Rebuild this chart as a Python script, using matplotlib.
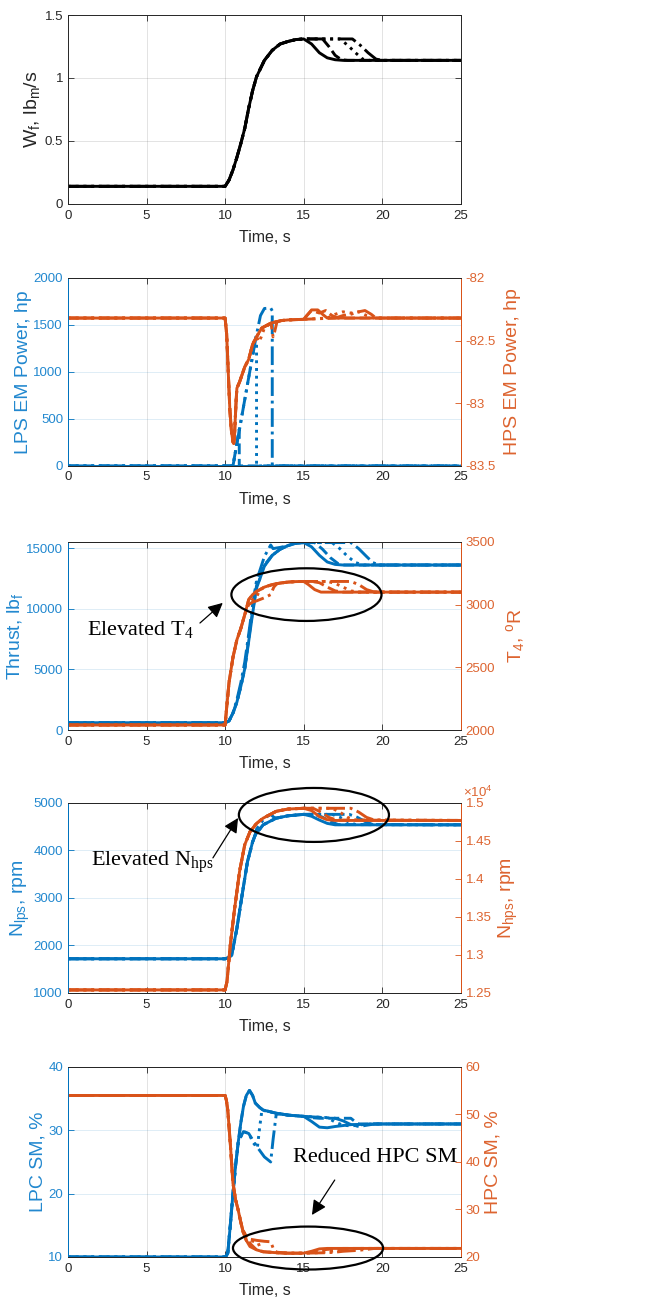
"""
    Engine response to a fuel step: fuel flow, EM power, thrust/T4,
    spool speeds and compressor stall margins for four assist cases.
"""

import matplotlib.pyplot as plt
from matplotlib.patches import Ellipse
from matplotlib.ticker import FuncFormatter

plt.rcParams["font.family"] = ["Liberation Sans", "DejaVu Sans"]
plt.rcParams["axes.unicode_minus"] = False
plt.rcParams["mathtext.fontset"] = "custom"
plt.rcParams["mathtext.rm"] = "Liberation Sans"
plt.rcParams["mathtext.it"] = "Liberation Sans"

BLUE = "#0072BD"
ORANGE = "#D95319"
BLUE_TXT = "#2288CF"
ORANGE_TXT = "#DD6430"
DARK = "#262626"
STYLES = ["-", "--", ":", "-."]

# ---- fuel flow, lbm/s ----
t_wf = [0, 10, 10.25, 10.5, 10.75, 11, 11.25, 11.5, 11.75, 12, 12.5, 13, 13.5, 14, 14.5, 15]
wf_rise = [0.14, 0.14, 0.19, 0.27, 0.37, 0.48, 0.60, 0.76, 0.90, 1.01, 1.14, 1.22, 1.27, 1.29, 1.305, 1.31]
wf_tail_t = [
    [15.5, 16, 16.5, 17, 17.5, 25],
    [16.2, 16.6, 17.0, 17.4, 17.8, 25],
    [17.3, 17.8, 18.3, 18.75, 19.2, 25],
    [18.1, 18.6, 19.1, 19.6, 20.0, 25],
]
wf_tail_y = [
    [1.27, 1.20, 1.16, 1.145, 1.14, 1.14],
    [1.31, 1.25, 1.18, 1.145, 1.14, 1.14],
    [1.31, 1.26, 1.20, 1.15, 1.14, 1.14],
    [1.31, 1.26, 1.20, 1.15, 1.14, 1.14],
]

# ---- LPS EM power, hp ----
lps_t = [
    [0, 25],
    [0, 10.5, 10.9, 10.9, 25],
    [0, 10.5, 11.0, 11.5, 12.0, 12.0, 25],
    [0, 10.5, 11.0, 11.5, 12.0, 12.25, 12.5, 12.9, 13.0, 13.0, 25],
]
lps_p = [
    [0, 0],
    [0, 0, 390, 0, 0],
    [0, 0, 470, 940, 1400, 0, 0],
    [0, 0, 470, 940, 1400, 1600, 1675, 1680, 1650, 0, 0],
]

# ---- HPS EM power, hp ----
t_hps = [0, 10, 10.1, 10.2, 10.3, 10.4, 10.5, 10.55, 10.6, 10.7, 10.75, 10.92, 11.25,
         11.5, 11.75, 12, 12.33, 12.92, 13.58, 14, 15]
hps_base = [-82.32, -82.32, -82.45, -82.75, -83.05, -83.22, -83.31, -83.32, -83.25, -82.98,
            -82.88, -82.83, -82.71, -82.65, -82.53, -82.47, -82.40, -82.36, -82.34, -82.335, -82.33]
hps_mid_t = [None, None, [12.0, 12.15, 12.3, 12.5], [12.92, 13.05, 13.15, 13.3]]
hps_mid_y = [None, None, [-82.47, -82.51, -82.47, -82.40], [-82.36, -82.47, -82.43, -82.35]]
hps_tail_t = [
    [15.2, 15.5, 15.9, 16.2, 16.5, 25],
    [15.2, 15.5, 16.0, 16.4, 16.8, 17.2, 25],
    [16.5, 17.0, 17.5, 18.0, 18.5, 19.0, 19.5, 25],
    [17.0, 17.5, 18.0, 18.5, 18.9, 19.3, 19.6, 25],
]
hps_tail_y = [
    [-82.30, -82.255, -82.255, -82.29, -82.32, -82.32],
    [-82.30, -82.26, -82.28, -82.26, -82.30, -82.32, -82.32],
    [-82.32, -82.29, -82.27, -82.28, -82.27, -82.30, -82.32, -82.32],
    [-82.32, -82.30, -82.29, -82.27, -82.26, -82.29, -82.32, -82.32],
]

# ---- thrust, lbf ----
t_thr = [0, 10, 10.25, 10.5, 10.75, 11, 11.25, 11.5, 11.75, 12, 12.5, 13, 13.5, 14, 14.5, 15]
thr_base = [600, 600, 750, 1400, 2300, 3600, 5050, 7300, 9600, 11700, 13500, 14400, 14900,
            15200, 15400, 15450]
thr_mid_t = [None, [11.5, 11.75, 12.0, 12.5], [11.5, 11.75, 12.0, 12.1, 12.5],
             [10.75, 11, 11.25, 11.5, 11.75, 12, 12.5, 12.9, 13.05, 13.25, 13.5]]
thr_mid_y = [None, [7500, 9800, 11900, 13600], [7700, 10000, 12200, 12050, 13550],
             [2500, 3900, 5600, 7900, 10300, 12300, 14300, 15250, 14950, 15000, 15050]]
thr_tail_t = [
    [15.5, 16, 16.5, 17, 17.5, 25],
    [15.7, 16.2, 16.7, 17.2, 17.6, 25],
    [16.8, 17.3, 17.8, 18.3, 18.8, 25],
    [18.0, 18.5, 19.0, 19.4, 19.8, 25],
]
thr_tail_y = [
    [15100, 14400, 13850, 13650, 13600, 13600],
    [15450, 14900, 14200, 13700, 13600, 13600],
    [15450, 14950, 14300, 13800, 13600, 13600],
    [15450, 14950, 14300, 13800, 13600, 13600],
]

# ---- T4, degR ----
t_t4 = [0, 10, 10.1, 10.25, 10.5, 10.75, 11, 11.25, 11.5, 11.75, 12, 12.5, 13, 13.5, 14, 14.5, 15]
t4_base = [2040, 2040, 2180, 2380, 2580, 2720, 2810, 2920, 3040, 3080, 3105, 3140, 3160, 3172,
           3180, 3184, 3185]
t4_mid_t = [None, None, [11.5, 11.75, 12.0, 12.2], [11.5, 11.75, 12.0, 12.5, 12.9, 13.1, 13.3]]
t4_mid_y = [None, None, [3020, 3040, 3060, 3115], [3000, 3020, 3030, 3055, 3080, 3140, 3168]]
t4_tail_t = [
    [15.3, 15.7, 16.1, 16.5, 25],
    [15.5, 16.0, 16.5, 17.0, 17.5, 25],
    [16.5, 17.0, 17.5, 18.0, 18.5, 25],
    [17.5, 18.0, 18.5, 19.0, 19.5, 25],
]
t4_tail_y = [
    [3160, 3120, 3100, 3100, 3100],
    [3185, 3175, 3140, 3110, 3100, 3100],
    [3185, 3170, 3140, 3110, 3100, 3100],
    [3185, 3185, 3160, 3120, 3100, 3100],
]

# ---- LPS speed, rpm ----
t_nl = [0, 10, 10.2, 10.42, 10.75, 11.08, 11.42, 11.75, 11.92, 12.42, 13.25, 14, 15]
nl_base = [1720, 1720, 1740, 1800, 2360, 3060, 3760, 4180, 4330, 4540, 4680, 4730, 4760]
nl_mid_t = [None, None, None, [12.0, 12.5, 12.9, 13.1]]
nl_mid_y = [None, None, None, [4450, 4680, 4760, 4700]]
nl_tail_t = [
    [15.5, 16, 16.5, 17, 25],
    [15.7, 16.2, 16.7, 17.2, 25],
    [16.8, 17.3, 17.8, 18.3, 25],
    [17.9, 18.4, 18.9, 19.4, 25],
]
nl_tail_y = [
    [4720, 4640, 4570, 4540, 4540],
    [4760, 4700, 4610, 4545, 4540],
    [4760, 4700, 4610, 4545, 4540],
    [4760, 4700, 4610, 4545, 4540],
]

# ---- HPS speed, rpm ----
t_nh = [0, 10, 10.12, 10.33, 10.58, 10.92, 11.25, 11.58, 12, 12.42, 13.25, 14, 15]
nh_base = [12540, 12540, 12650, 13130, 13570, 14100, 14450, 14620, 14730, 14800, 14890, 14920, 14930]
nh_tail_t = [
    [15.5, 16, 16.5, 17, 25],
    [15.6, 16.1, 16.6, 17.1, 25],
    [16.8, 17.3, 17.8, 18.3, 25],
    [18.0, 18.5, 19.0, 19.5, 25],
]
nh_tail_y = [
    [14900, 14820, 14780, 14770, 14770],
    [14930, 14880, 14810, 14775, 14770],
    [14930, 14880, 14810, 14775, 14770],
    [14930, 14880, 14810, 14775, 14770],
]

# ---- LPC stall margin, % ----
t_lsm = [0, 10, 10.05, 10.17, 10.33, 10.5, 10.67, 10.83, 11, 11.17, 11.35, 11.55, 11.75, 11.92,
         12.2, 12.42, 13.25, 14, 15]
lsm_base = [10, 10, 10.1, 10.6, 15, 20, 24.5, 28, 31.2, 33.8, 35.5, 36.3, 35.5, 34.3, 33.6, 33.2,
            32.7, 32.4, 32.2]
lsm_mid_t = [None, None, [11.0, 11.17, 11.5, 11.8, 12.05, 12.2, 12.35, 12.5],
             [11.0, 11.17, 11.5, 12.0, 12.5, 12.9, 13.05, 13.25, 13.5]]
lsm_mid_y = [None, None, [29.0, 29.8, 29.5, 28.0, 27.2, 30.5, 33.3, 33.1],
             [29.0, 29.8, 29.5, 27.5, 25.8, 25.0, 28.5, 32.5, 32.6]]
lsm_tail_t = [
    [15.5, 16, 16.5, 17, 18, 20, 25],
    [15.5, 16, 17, 18, 18.2, 18.5, 19, 25],
    [16.5, 17, 17.5, 18, 18.5, 19, 25],
    [17, 17.5, 18, 18.5, 19, 19.5, 25],
]
lsm_tail_y = [
    [31.4, 30.5, 30.4, 30.6, 30.9, 31.0, 31.0],
    [32.0, 31.9, 31.9, 31.9, 31.5, 31.0, 31.0, 31.0],
    [32.0, 31.3, 30.8, 30.7, 30.8, 31.0, 31.0],
    [31.9, 31.5, 30.9, 30.6, 30.8, 31.0, 31.0],
]

# ---- HPC stall margin, % ----
t_hsm = [0, 10, 10.08, 10.17, 10.33, 10.5, 10.67, 10.83, 11, 11.17, 11.35, 11.58, 12, 12.42,
         13.25, 14, 15]
hsm_base = [54, 54, 53, 50.9, 43.9, 35.5, 32.0, 29.9, 27.3, 25.0, 23.5, 22.2, 21.5, 21.1, 20.9,
            20.8, 20.8]
hsm_mid_t = [None, [11.2, 11.4, 11.6], [11.5, 11.8, 12.1, 12.3],
             [11.5, 12.0, 12.5, 12.9, 13.1, 13.3]]
hsm_mid_y = [None, [25.3, 24.0, 22.8], [23.5, 23.3, 23.0, 21.3],
             [23.8, 23.5, 23.3, 23.2, 21.5, 21.0]]
hsm_tail_t = [
    [15.5, 16, 16.5, 17, 25],
    [15.5, 16, 16.5, 17, 17.5, 25],
    [16, 16.5, 17, 17.5, 18, 18.5, 25],
    [16.5, 17, 17.5, 18, 18.5, 19, 19.5, 25],
]
hsm_tail_y = [
    [21.2, 21.7, 21.8, 21.8, 21.8],
    [21.0, 21.4, 21.6, 21.7, 21.8, 21.8],
    [20.9, 21.1, 21.3, 21.4, 21.6, 21.8, 21.8],
    [20.9, 21.0, 21.2, 21.3, 21.4, 21.6, 21.8, 21.8],
]


def splice(t, y, new_t, new_y):
    """Replace the points of (t, y) lying inside new_t's span by the new points."""
    if new_t is None:
        return list(t), list(y)
    a = [(ti, yi) for ti, yi in zip(t, y) if ti < new_t[0]]
    b = [(ti, yi) for ti, yi in zip(t, y) if ti > new_t[-1]]
    pts = a + list(zip(new_t, new_y)) + b
    return [p[0] for p in pts], [p[1] for p in pts]


def series(t, base, mid_t, mid_y, tail_t, tail_y):
    out = []
    for k in range(4):
        tt, yy = splice(t, base, mid_t[k] if mid_t else None, mid_y[k] if mid_y else None)
        tt, yy = splice(tt, yy, tail_t[k], tail_y[k])
        out.append((tt, yy))
    return out


def draw(ax, curves, color):
    for k in (3, 2, 1, 0):
        tt, yy = curves[k]
        ax.plot(tt, yy, STYLES[k], color=color, lw=2.1)


def style(ax, ax2=None, lcol=DARK, rcol=DARK, ltxt=DARK, rtxt=DARK):
    ax.set_xlim(0, 25)
    ax.set_xticks([0, 5, 10, 15, 20, 25])
    ax.tick_params(axis="x", direction="in", top=True, length=4, width=0.6,
                   labelsize=9.5, pad=4, colors=DARK)
    ax.tick_params(axis="y", direction="in", length=4, width=0.6, labelsize=9.5,
                   color=lcol, labelcolor=ltxt, right=(ax2 is None))
    ax.grid(axis="x", color=DARK, alpha=0.15, lw=0.6)
    ax.grid(axis="y", color=lcol if ax2 is not None else DARK, alpha=0.15, lw=0.6)
    ax.set_xlabel("Time, s", fontsize=11.5, color=DARK, labelpad=6)
    for a in [ax] + ([ax2] if ax2 is not None else []):
        a.spines["top"].set_color(DARK)
        a.spines["bottom"].set_color(DARK)
        a.spines["left"].set_color(lcol)
        a.spines["right"].set_color(rcol)
        for s in a.spines.values():
            s.set_linewidth(0.7)
    if ax2 is not None:
        ax2.tick_params(axis="y", direction="in", length=4, width=0.6, labelsize=9.5,
                        color=rcol, labelcolor=rtxt)


def fmt(v, _):
    return "%g" % v


def annotate(ax, text, xy_text, xy_arrow, ell_c, ell_w, ell_h, ha="left"):
    ax.add_patch(Ellipse(ell_c, ell_w, ell_h, transform=ax.transAxes, fill=False,
                         ec="black", lw=1.6, clip_on=False, zorder=10))
    ax.annotate("", xy=xy_arrow, xytext=xy_text[1], xycoords="axes fraction",
                arrowprops=dict(arrowstyle="-|>", color="black", lw=0.9, mutation_scale=22,
                                shrinkA=0, shrinkB=0), zorder=10)
    ax.text(xy_text[0][0], xy_text[0][1], text, transform=ax.transAxes, ha=ha, va="center",
            fontsize=16, family=["Liberation Serif"], zorder=10)


fig = plt.figure(figsize=(6.66, 13.05), dpi=100)
L, W = 0.102, 0.590
YL = 14

# panel 1: fuel flow
ax1 = fig.add_axes([L, 0.8437, W, 0.1448])
draw(ax1, series(t_wf, wf_rise, None, None, wf_tail_t, wf_tail_y), "black")
ax1.set_ylim(0, 1.5)
ax1.set_yticks([0, 0.5, 1, 1.5])
ax1.yaxis.set_major_formatter(FuncFormatter(fmt))
style(ax1)
ax1.set_ylabel(r"W$_f$, lb$_m$/s", fontsize=YL, color=DARK, labelpad=2)

# panel 2: EM power
ax2 = fig.add_axes([L, 0.643, W, 0.144])
ax2r = ax2.twinx()
for k in (3, 2, 1, 0):
    ax2.plot(lps_t[k], lps_p[k], STYLES[k], color=BLUE, lw=2.1)
draw(ax2r, series(t_hps, hps_base, hps_mid_t, hps_mid_y, hps_tail_t, hps_tail_y), ORANGE)
ax2.set_ylim(0, 2000)
ax2.set_yticks([0, 500, 1000, 1500, 2000])
ax2r.set_ylim(-83.5, -82)
ax2r.set_yticks([-83.5, -83, -82.5, -82])
ax2r.yaxis.set_major_formatter(FuncFormatter(fmt))
style(ax2, ax2r, BLUE, ORANGE, BLUE_TXT, ORANGE_TXT)
ax2.set_ylabel("LPS EM Power, hp", fontsize=YL, color=BLUE_TXT, labelpad=1)
ax2r.set_ylabel("HPS EM Power, hp", fontsize=YL, color=ORANGE_TXT, labelpad=6)

# panel 3: thrust and T4
ax3 = fig.add_axes([L, 0.4406, W, 0.1441])
ax3r = ax3.twinx()
draw(ax3, series(t_thr, thr_base, thr_mid_t, thr_mid_y, thr_tail_t, thr_tail_y), BLUE)
draw(ax3r, series(t_t4, t4_base, t4_mid_t, t4_mid_y, t4_tail_t, t4_tail_y), ORANGE)
ax3.set_ylim(0, 15500)
ax3.set_yticks([0, 5000, 10000, 15000])
ax3r.set_ylim(2000, 3500)
ax3r.set_yticks([2000, 2500, 3000, 3500])
style(ax3, ax3r, BLUE, ORANGE, BLUE_TXT, ORANGE_TXT)
ax3.set_ylabel(r"Thrust, lb$_f$", fontsize=YL, color=BLUE_TXT, labelpad=1)
ax3r.set_ylabel(r"T$_4$, $^o$R", fontsize=YL, color=ORANGE_TXT, labelpad=6)
annotate(ax3r, r"Elevated T$_\mathregular{4}$", ((0.048, 0.532), (0.336, 0.569)), (0.394, 0.676),
         (0.607, 0.72), 0.382, 0.28)

# panel 4: spool speeds
ax4 = fig.add_axes([L, 0.2391, W, 0.1456])
ax4r = ax4.twinx()
draw(ax4, series(t_nl, nl_base, nl_mid_t, nl_mid_y, nl_tail_t, nl_tail_y), BLUE)
draw(ax4r, series(t_nh, nh_base, None, None, nh_tail_t, nh_tail_y), ORANGE)
ax4.set_ylim(1000, 5000)
ax4.set_yticks([1000, 2000, 3000, 4000, 5000])
ax4r.set_ylim(12500, 15000)
ax4r.set_yticks([12500, 13000, 13500, 14000, 14500, 15000])
ax4r.yaxis.set_major_formatter(FuncFormatter(lambda v, _: "%g" % (v / 1e4)))
style(ax4, ax4r, BLUE, ORANGE, BLUE_TXT, ORANGE_TXT)
ax4r.text(1.005, 1.058, r"$\times10^{4}$", transform=ax4r.transAxes, color=ORANGE_TXT,
          fontsize=9.5, va="center", ha="left")
ax4.set_ylabel(r"N$_{lps}$, rpm", fontsize=YL, color=BLUE_TXT, labelpad=1)
ax4r.set_ylabel(r"N$_{hps}$, rpm", fontsize=YL, color=ORANGE_TXT, labelpad=4)
annotate(ax4r, r"Elevated N$_\mathregular{hps}$", ((0.058, 0.684), (0.369, 0.711)),
         (0.433, 0.921), (0.626, 0.937), 0.382, 0.284)

# panel 5: stall margins
ax5 = fig.add_axes([L, 0.0368, W, 0.1456])
ax5r = ax5.twinx()
draw(ax5, series(t_lsm, lsm_base, lsm_mid_t, lsm_mid_y, lsm_tail_t, lsm_tail_y), BLUE)
draw(ax5r, series(t_hsm, hsm_base, hsm_mid_t, hsm_mid_y, hsm_tail_t, hsm_tail_y), ORANGE)
ax5.set_ylim(10, 40)
ax5.set_yticks([10, 20, 30, 40])
ax5r.set_ylim(20, 60)
ax5r.set_yticks([20, 30, 40, 50, 60])
style(ax5, ax5r, BLUE, ORANGE, BLUE_TXT, ORANGE_TXT)
ax5.set_ylabel("LPC SM, %", fontsize=YL, color=BLUE_TXT, labelpad=1)
ax5r.set_ylabel("HPC SM, %", fontsize=YL, color=ORANGE_TXT, labelpad=3)
annotate(ax5r, "Reduced HPC SM", ((0.573, 0.526), (0.679, 0.405)), (0.621, 0.221),
         (0.611, 0.047), 0.382, 0.226)

plt.savefig("out.png", dpi=100)
